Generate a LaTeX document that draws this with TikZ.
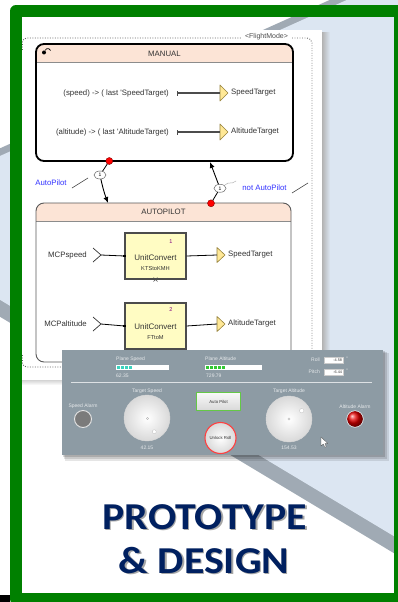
\documentclass[tikz,border=0pt]{standalone}
\usepackage{fontspec}
\setmainfont{Liberation Sans}
\newfontfamily\titlefont{Carlito}
\usetikzlibrary{arrows.meta,shapes.geometric,calc}
\definecolor{frameGreen}{RGB}{0,128,0}
\definecolor{lightBlue}{RGB}{220,230,242}
\definecolor{bandGray}{RGB}{160,170,180}
\definecolor{peach}{RGB}{252,228,214}
\definecolor{blockYellow}{RGB}{255,252,195}
\definecolor{portFill}{RGB}{255,232,150}
\definecolor{portDraw}{RGB}{150,130,60}
\definecolor{panelGray}{RGB}{141,155,164}
\definecolor{labelBlue}{RGB}{51,51,255}
\definecolor{titleBlue}{RGB}{0,32,96}
\definecolor{tealBar}{RGB}{60,210,190}
\definecolor{greenBar}{RGB}{50,200,50}
\definecolor{btnGreen}{RGB}{100,200,70}
\newcommand\dfont{\fontsize{7.8}{9}\selectfont}
\newcommand\pfont{\fontsize{5}{6}\selectfont}
\newcommand\sfont{\fontsize{4.3}{5}\selectfont}
\begin{document}
\begin{tikzpicture}[x=1pt,y=-1pt,
  txt/.style={font=\dfont, inner sep=0pt, text=black!80},
  bluetxt/.style={font=\dfont, inner sep=0pt, text=labelBlue},
  manualbox/.style={draw=black, line width=1.8pt, rounded corners=8pt, minimum width=257pt, minimum height=117pt, inner sep=0pt},
  autobox/.style={draw=black!65, line width=0.9pt, rounded corners=8pt, minimum width=255pt, minimum height=159pt, inner sep=0pt},
  port/.style={fill=portFill, draw=portDraw, line width=0.6pt, line join=round},
  wire/.style={draw=black!70, line width=1.1pt},
  wireb/.style={draw=black, line width=0.8pt},
  chev/.style={draw=black!80, line width=0.7pt},
  blockbox/.style={draw=black!70, line width=1.1pt, fill=blockYellow, minimum width=61pt, minimum height=46pt, inner sep=0pt},
  reddot/.style={circle, fill=red, draw=red!50!black, line width=0.4pt, minimum size=7pt, inner sep=0pt},
  oval/.style={ellipse, draw=black!60, fill=white, line width=0.5pt, minimum width=12pt, minimum height=8pt, inner sep=0pt, font=\fontsize{5}{5}\selectfont},
  trans/.style={draw=black, line width=0.9pt, -{Latex[length=6pt,width=5pt]}},
  dotline/.style={draw=black!60, line width=0.9pt, dash pattern=on 0.9pt off 1.6pt},
  plbl/.style={font=\pfont, inner sep=0pt, text=white!78!panelGray},
  btxt/.style={font=\sfont, inner sep=0pt, text=black!80},
  ttl/.style={font=\titlefont\bfseries\fontsize{38}{40}\selectfont, inner sep=0pt, anchor=base},
]
\useasboundingbox (0,0) rectangle (397,602);
\fill[white] (0,0) rectangle (397,602);
% background chevron
\fill[bandGray] (420,-40.7) -- (-160.4,220.5) -- (420,568.8) -- cycle;
\fill[lightBlue] (420,-33) -- (-137,217.6) -- (420,551.8) -- cycle;
% diagram card
\shade[left color=gray!60, right color=lightBlue] (322,33) rectangle (330,384);
\shade[top color=gray!40, bottom color=white] (22,379) rectangle (322,385);
\fill[white] (22,30) rectangle (322,380);
% green frame
\draw[frameGreen, line width=12pt, line join=round] (16,11) rectangle (400,599);
\fill[black] (0,595) rectangle (10,602);

% FlightMode boundary
\draw[dotline, rounded corners=4pt] (22.5,50) -- (22.5,38) -- (241,38);
\draw[dotline, rounded corners=5pt] (292,38) -- (312,38) -- (312,352);
\draw[dotline, rounded corners=4pt] (22.5,355) -- (22.5,367) -- (64,367);
\node[font=\fontsize{7}{8}\selectfont, text=black!70, inner sep=0pt] (fm) at (266.5,37) {<FlightMode>};

% MANUAL state
\begin{scope}
\clip (36,44) rectangle (293,62);
\fill[peach, rounded corners=8pt] (36,44) rectangle (293,80);
\end{scope}
\draw[black!45, line width=0.8pt] (36,62) -- (293,62);
\node[manualbox] (manual) at (164.5,102.5) {};
\node[txt] (mtitle) at (164.5,53.5) {MANUAL};
\fill[black] (44,52.5) circle (2pt);
\draw[black, line width=0.6pt] (45,50.5) arc[start angle=160, end angle=20, radius=3pt];

\node[txt, anchor=east] (m1) at (169,93) {(speed) -> ( last \textquotesingle SpeedTarget)};
\coordinate (p1) at (220,93);
\draw[port] (220,85) -- (228,93) -- (220,101) -- cycle;
\node[txt, anchor=west] (t1) at (231,92.5) {SpeedTarget};
\draw[wire, {Bar[width=5pt]}-, shorten <=8pt] (m1.east) -- (p1);

\node[txt, anchor=east] (m2) at (169,132) {(altitude) -> ( last \textquotesingle AltitudeTarget)};
\coordinate (p2) at (220,132);
\draw[port] (220,124) -- (228,132) -- (220,140) -- cycle;
\node[txt, anchor=west] (t2) at (231,131.5) {AltitudeTarget};
\draw[wire, {Bar[width=5pt]}-, shorten <=8pt] (m2.east) -- (p2);

% AUTOPILOT state
\begin{scope}
\clip (36,203) rectangle (291,221);
\fill[peach, rounded corners=8pt] (36,203) rectangle (291,240);
\end{scope}
\draw[black!45, line width=0.8pt] (36,221) -- (291,221);
\node[autobox] (auto) at (163.5,282.5) {};
\node[txt] (atitle) at (163.5,212) {AUTOPILOT};

% block 1
\node[txt, anchor=east] (in1) at (87,255) {MCPspeed};
\draw[chev] (93,248) -- (101,255) -- (93,262);
\coordinate (c1) at (101,255);
\node[blockbox] (b1) at (155.5,256) {};
\node[inner sep=0pt, font=\fontsize{5.5}{6}\selectfont, text=violet] (n1) at (171,242) {1};
\node[inner sep=0pt, font=\fontsize{8}{9}\selectfont, text=black!80] (u1) at (155.5,258) {UnitConvert};
\node[inner sep=0pt, font=\fontsize{5.7}{6}\selectfont, text=black!80] (k1) at (155.5,269) {KTStoKMH};
\draw[wireb] (c1) -- (b1.west);
\fill[black] ($(b1.west)+(-1.2,-1.2)$) rectangle ($(b1.west)+(1.2,1.2)$);
\draw[black!70, line width=0.5pt] ($(b1.south)+(-2,-2)$) -- ($(b1.south)+(2,2)$) ($(b1.south)+(-2,2)$) -- ($(b1.south)+(2,-2)$);
\coordinate (p3) at (217,255);
\draw[port] (217,247.5) -- (225,255) -- (217,262.5) -- cycle;
\draw[wireb] (b1.east) -- (p3);
\node[txt, anchor=west] (t3) at (228,254.5) {SpeedTarget};

% block 2
\node[txt, anchor=east] (in2) at (87,324) {MCPaltitude};
\draw[chev] (93,317) -- (101,324) -- (93,331);
\coordinate (c2) at (101,324);
\node[blockbox] (b2) at (155.5,326) {};
\node[inner sep=0pt, font=\fontsize{5.5}{6}\selectfont, text=violet] (n2) at (171,310) {2};
\node[inner sep=0pt, font=\fontsize{8}{9}\selectfont, text=black!80] (u2) at (155.5,327) {UnitConvert};
\node[inner sep=0pt, font=\fontsize{5.7}{6}\selectfont, text=black!80] (k2) at (155.5,338) {FTtoM};
\draw[wireb] (c2) -- (b2.west);
\fill[black] ($(b2.west)+(-1.2,-1.2)$) rectangle ($(b2.west)+(1.2,1.2)$);
\coordinate (p4) at (217,324);
\draw[port] (217,316.5) -- (225,324) -- (217,331.5) -- cycle;
\draw[wireb] (b2.east) -- (p4);
\node[txt, anchor=west] (t4) at (228,323.5) {AltitudeTarget};

% transitions
\node[reddot] (rd1) at (109.3,161) {};
\node[oval] (ov1) at (100,175) {1};
\coordinate (ap1) at (108,203);
\draw[black, line width=0.8pt] (rd1) -- (ov1);
\draw[trans] (ov1) to[bend right=4] (ap1);
\node[bluetxt] (lab1) at (51,183) {AutoPilot};
\draw[black!70, line width=0.6pt] (72,188) -- (88,178);

\node[reddot] (rd2) at (211,203.3) {};
\node[oval] (ov2) at (220,188.3) {1};
\coordinate (mp2) at (210,162);
\draw[black, line width=0.8pt] (rd2) -- (ov2);
\draw[trans] (ov2) -- (mp2);
\draw[black!30, line width=0.5pt] (225,185) .. controls (229,181) and (231,185) .. (236,181);
\node[bluetxt] (lab2) at (264.5,188) {not AutoPilot};
\draw[black!70, line width=0.6pt] (292,193) -- (308,183);

% dashboard panel
\fill[black, opacity=0.10] (65,353) rectangle (389,461);
\fill[black, opacity=0.12] (64,352) rectangle (387,459);
\fill[black, opacity=0.15] (63,351) rectangle (385,457);
\fill[panelGray] (62,350) rectangle (383,455);

\node[plbl, anchor=west] (psl) at (116,359) {Plane Speed};
\fill[white] (116,365) rectangle (169,369.5);
\foreach \i in {0,1,2,3} \fill[tealBar] (117+\i*4,365.8) rectangle (120.3+\i*4,368.7);
\node[plbl, anchor=west] (psv) at (116,375.5) {62.35};

\node[plbl, anchor=west] (pal) at (205,359) {Plane Altitude};
\fill[white] (205,365) rectangle (262,369.5);
\foreach \i in {0,1,2,3,4} \fill[greenBar] (206+\i*4,365.8) rectangle (209.3+\i*4,368.7);
\node[plbl, anchor=west] (pav) at (206,375.5) {729.79};

\node[plbl, anchor=east] (roll) at (320,360) {Roll};
\node[draw=white!60!gray, fill=white, minimum width=19pt, minimum height=6pt, inner sep=0pt] (rollbox) at (333.5,360) {};
\node[btxt, anchor=east, font=\fontsize{3.8}{4}\selectfont] at ($(rollbox.east)+(-1,0)$) {-4.58};
\node[plbl] at (347,358.5) {°};
\node[plbl, anchor=east] (pitch) at (320,372) {Pitch};
\node[draw=white!60!gray, fill=white, minimum width=19pt, minimum height=6pt, inner sep=0pt] (pitchbox) at (333.5,372) {};
\node[btxt, anchor=east, font=\fontsize{3.8}{4}\selectfont] at ($(pitchbox.east)+(-1,0)$) {-6.44};
\node[plbl] at (347,370.5) {°};

\draw[white!70!panelGray, line width=0.8pt] (71,382) -- (372,382);

% speed alarm
\node[plbl] (sal) at (83,406.5) {Speed Alarm};
\node[circle, minimum size=17pt, inner sep=0pt, fill=gray!85!black!90, draw=gray!20, line width=0.9pt] (salc) at (83,419) {};

% knob 1
\node[plbl] (tsl) at (147,391) {Target Speed};
\shade[inner color=white, outer color=gray!30] (147,418) circle (23pt);
\draw[white!70!gray, line width=0.4pt] (147,418) circle (23pt);
\draw[gray!60, line width=0.4pt] (147.5,418.5) circle (1.2pt);
\fill[white] (154.3,431.7) circle (2pt);
\draw[gray!50, line width=0.3pt] (154.3,431.7) circle (2pt);
\node[plbl] (tsv) at (147,447.5) {42.15};

% auto pilot button
\node[draw=btnGreen, line width=1.2pt, top color=gray!5, bottom color=gray!30, minimum width=44pt, minimum height=18pt, inner sep=0pt, font=\sfont, text=black!80] (apb) at (218.5,401.5) {Auto Pilot};
% unlock roll
\node[circle, draw=red!75, line width=1.1pt, inner color=white, outer color=gray!30, minimum size=31pt, inner sep=0pt, font=\sfont, text=black!80] (urb) at (220.5,438) {Unlock Roll};

% knob 2
\node[plbl] (tal) at (289,391) {Target Altitude};
\shade[inner color=white, outer color=gray!30] (289,419) circle (23pt);
\draw[white!70!gray, line width=0.4pt] (289,419) circle (23pt);
\draw[gray!60, line width=0.4pt] (289,419) circle (1.2pt);
\fill[white] (301.7,410.7) circle (2.2pt);
\draw[gray!50, line width=0.3pt] (301.7,410.7) circle (2.2pt);
\node[plbl] (tav) at (289,447.5) {154.53};

% altitude alarm
\node[plbl] (aal) at (355,406.5) {Altitude Alarm};
\shade[ball color=red!90!black] (355,419) circle (8pt);
\draw[white!80!panelGray, line width=0.6pt] (355,419) circle (8.3pt);

% cursor
\draw[fill=white, draw=black!70, line width=0.3pt, line join=round] (321,437) -- (321,446) -- (323.3,444) -- (324.8,447.3) -- (326.3,446.7) -- (324.9,443.4) -- (327.8,443.4) -- cycle;

% title
\node[ttl, text=black!35] at (206.3,530.3) {\scalebox{1.1}[1]{PROTOTYPE}};
\node[ttl, text=titleBlue] (title1) at (205,529) {\scalebox{1.1}[1]{PROTOTYPE}};
\node[ttl, text=black!35] at (205.3,574.3) {\scalebox{1.1}[1]{\& DESIGN}};
\node[ttl, text=titleBlue] (title2) at (204,573) {\scalebox{1.1}[1]{\& DESIGN}};
\end{tikzpicture}
\end{document}
